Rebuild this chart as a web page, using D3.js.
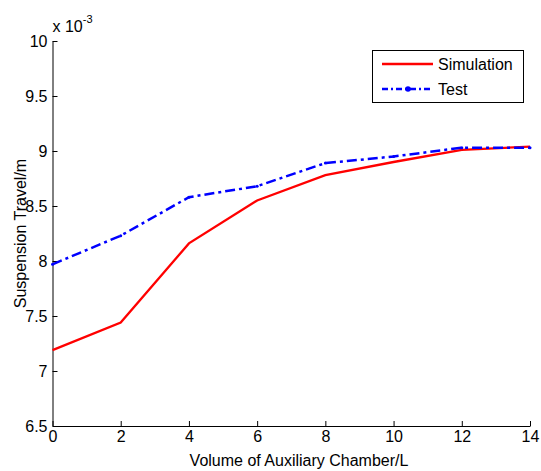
<!DOCTYPE html>
<html>
<head>
<meta charset="utf-8">
<script src="https://cdn.jsdelivr.net/npm/d3@7"></script>
<style>
  body { margin: 0; background: #fff; }
  svg text { font-family: "Liberation Sans", Arial, Helvetica, sans-serif; fill: #000; }
</style>
</head>
<body>
<div id="chart"></div>
<script>
var width = 541;
var height = 471;
var fontSize = "16px";

// chamber volume (L)
var volumes = [0, 2, 4, 6, 8, 10, 12, 14];
// suspension travel, units of 1e-3 m
var simulation = [7.19, 7.44, 8.16, 8.55, 8.78, 8.90, 9.01, 9.04];
var test = [7.97, 8.23, 8.58, 8.68, 8.89, 8.95, 9.03, 9.03];

var xTicks = [0, 2, 4, 6, 8, 10, 12, 14];
var yTicks = [6.5, 7, 7.5, 8, 8.5, 9, 9.5, 10];

var margin = {left: 52.5, right: 11, top: 41, bottom: 45};

var x = d3.scaleLinear().domain([0, 14]).range([margin.left, width - margin.right]);
var y = d3.scaleLinear().domain([6.5, 10]).range([height - margin.bottom, margin.top]);

var svg = d3.select("#chart")
            .append("svg")
            .attr("width", width)
            .attr("height", height);

// x axis, ticks pointing in
var xAxis = d3.axisBottom(x)
            .tickValues(xTicks)
            .tickSizeInner(-5)
            .tickSizeOuter(0)
            .tickPadding(5)
            .tickFormat(d3.format("d"));
var gx = svg.append("g")
            .attr("transform", "translate(0," + y.range()[0] + ")")
            .call(xAxis);

var yAxis = d3.axisLeft(y)
            .tickValues(yTicks)
            .tickSizeInner(-5)
            .tickSizeOuter(0)
            .tickPadding(5)
            .tickFormat(d => String(d));
var gy = svg.append("g")
            .attr("transform", "translate(" + x.range()[0] + ",0)")
            .call(yAxis);

[gx, gy].forEach(function(g) {
    g.selectAll("path, line").attr("stroke", "#000").attr("stroke-width", 1);
    g.selectAll("text")
        .style("font-size", fontSize)
        .style("font-family", '"Liberation Sans", Arial, sans-serif')
        .attr("fill", "#000");
});

// exponent label
var expo = svg.append("text")
            .attr("x", x.range()[0])
            .attr("y", 32)
            .style("font-size", fontSize);
expo.append("tspan").text("x 10");
expo.append("tspan")
    .text("-3")
    .attr("dy", -9)
    .style("font-size", "11px");

// axis titles
svg.append("text")
    .text("Volume of Auxiliary Chamber/L")
    .attr("x", 299)
    .attr("y", 466)
    .attr("text-anchor", "middle")
    .style("font-size", fontSize);

svg.append("text")
    .text("Suspension Travel/m")
    .attr("transform", "translate(25.5," + ((y.range()[0] + y.range()[1]) / 2) + ") rotate(-90)")
    .attr("text-anchor", "middle")
    .style("font-size", fontSize);

var line = d3.line()
            .x(d => x(d[0]))
            .y(d => y(d[1]));

var simData = volumes.map((v, i) => [v, simulation[i]]);
var testData = volumes.map((v, i) => [v, test[i]]);

svg.append("path")
    .datum(simData)
    .attr("d", line)
    .attr("fill", "none")
    .attr("stroke", "#ff0000")
    .attr("stroke-width", 2.3);

svg.append("path")
    .datum(testData)
    .attr("d", line)
    .attr("fill", "none")
    .attr("stroke", "#0000ff")
    .attr("stroke-width", 2.5)
    .attr("stroke-dasharray", "10,4,3,4");

svg.selectAll(".testdot")
    .data(testData)
    .enter()
    .append("circle")
    .attr("class", "testdot")
    .attr("cx", d => x(d[0]))
    .attr("cy", d => y(d[1]))
    .attr("r", 1.5)
    .attr("fill", "#0000ff");

// legend
var legend = svg.append("g");
legend.append("rect")
    .attr("x", 372.5)
    .attr("y", 50.5)
    .attr("width", 151)
    .attr("height", 52)
    .attr("fill", "#fff")
    .attr("stroke", "#000")
    .attr("stroke-width", 1);

legend.append("line")
    .attr("x1", 382).attr("x2", 433)
    .attr("y1", 64).attr("y2", 64)
    .attr("stroke", "#ff0000")
    .attr("stroke-width", 2.3);
legend.append("text")
    .text("Simulation")
    .attr("x", 438).attr("y", 70)
    .style("font-size", fontSize);

legend.append("line")
    .attr("x1", 382).attr("x2", 433)
    .attr("y1", 89).attr("y2", 89)
    .attr("stroke", "#0000ff")
    .attr("stroke-width", 2.5)
    .attr("stroke-dasharray", "6,3,2,3");
legend.append("circle")
    .attr("cx", 408).attr("cy", 89)
    .attr("r", 2.8)
    .attr("fill", "#0000ff");
legend.append("text")
    .text("Test")
    .attr("x", 438).attr("y", 95)
    .style("font-size", fontSize);
</script>
</body>
</html>
